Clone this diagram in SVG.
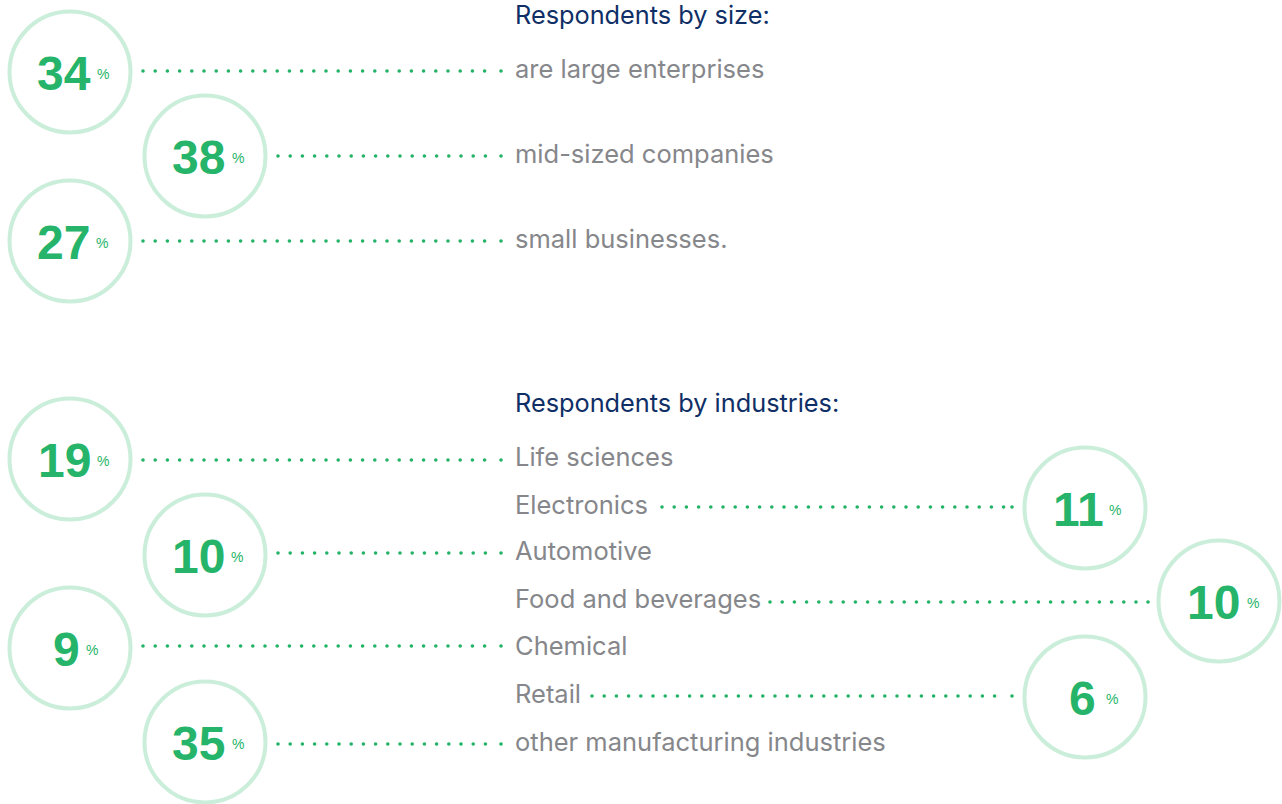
<svg xmlns="http://www.w3.org/2000/svg" width="1282" height="804" viewBox="0 0 1282 804">
<style>
.ring{fill:#fff;stroke:#cbeedb;stroke-width:4}
.num{font-family:"Liberation Sans",Arial,sans-serif;font-weight:700;font-size:48px;fill:#25b469}
.pct{font-family:"Liberation Sans",Arial,sans-serif;font-size:14px;fill:#25b469}
.lbl{font-family:Inter,"Liberation Sans",sans-serif;font-size:25.5px;fill:#86878b}
.hd{font-family:Inter,"Liberation Sans",sans-serif;font-size:25.3px;fill:#0f2f66}
.dots{stroke:#22b366;stroke-width:3.6;stroke-linecap:round;stroke-dasharray:0 12.2;fill:none}
.end{fill:#22b366}
</style>
<rect width="1282" height="804" fill="#fff"/>
<g id="connectors">
<line class="dots" x1="143" y1="71" x2="494" y2="71"/><circle class="end" cx="501" cy="71" r="1.8"/>
<line class="dots" x1="278" y1="156" x2="494" y2="156"/><circle class="end" cx="501" cy="156" r="1.8"/>
<line class="dots" x1="143" y1="241" x2="494" y2="241"/><circle class="end" cx="501" cy="241" r="1.8"/>
<line class="dots" x1="143" y1="460" x2="494" y2="460"/><circle class="end" cx="501" cy="460" r="1.8"/>
<line class="dots" x1="662" y1="507" x2="1005" y2="507"/><circle class="end" cx="1012" cy="507" r="1.8"/>
<line class="dots" x1="278" y1="553" x2="494" y2="553"/><circle class="end" cx="501" cy="553" r="1.8"/>
<line class="dots" x1="770" y1="602" x2="1141" y2="602"/><circle class="end" cx="1148" cy="602" r="1.8"/>
<line class="dots" x1="143" y1="646" x2="494" y2="646"/><circle class="end" cx="501" cy="646" r="1.8"/>
<line class="dots" x1="592" y1="696" x2="1005" y2="696"/><circle class="end" cx="1012" cy="696" r="1.8"/>
<line class="dots" x1="278" y1="744" x2="494" y2="744"/><circle class="end" cx="501" cy="744" r="1.8"/>
</g>
<g id="heading-size"><text class="hd" x="515" y="24">Respondents by size:</text></g>
<g id="n34"><circle class="ring" cx="70" cy="72" r="60.5"/><text class="num" x="37" y="90">34</text><text class="pct" x="97" y="79">%</text></g>
<g id="l34"><text class="lbl" x="515" y="78">are large enterprises</text></g>
<g id="n38"><circle class="ring" cx="205" cy="156" r="60.5"/><text class="num" x="172" y="174">38</text><text class="pct" x="232" y="163">%</text></g>
<g id="l38"><text class="lbl" x="515" y="163">mid-sized companies</text></g>
<g id="n27"><circle class="ring" cx="70" cy="241" r="60.5"/><text class="num" x="37" y="259">27</text><text class="pct" x="96" y="248">%</text></g>
<g id="l27"><text class="lbl" x="515" y="248">small businesses.</text></g>
<g id="heading-ind"><text class="hd" x="515" y="412">Respondents by industries:</text></g>
<g id="n19"><circle class="ring" cx="70" cy="459" r="60.5"/><text class="num" x="38" y="477">19</text><text class="pct" x="97" y="466">%</text></g>
<g id="l19"><text class="lbl" x="515" y="466">Life sciences</text></g>
<g id="l11"><text class="lbl" x="515" y="514">Electronics</text></g>
<g id="n11"><circle class="ring" cx="1085" cy="508" r="60.5"/><text class="num" x="1053" y="526">11</text><text class="pct" x="1109" y="515">%</text></g>
<g id="n10a"><circle class="ring" cx="205" cy="555" r="60.5"/><text class="num" x="172" y="573">10</text><text class="pct" x="231" y="562">%</text></g>
<g id="l10a"><text class="lbl" x="515" y="560">Automotive</text></g>
<g id="l10b"><text class="lbl" x="515" y="608">Food and beverages</text></g>
<g id="n10b"><circle class="ring" cx="1219" cy="601" r="60.5"/><text class="num" x="1187" y="619">10</text><text class="pct" x="1247" y="608">%</text></g>
<g id="n9"><circle class="ring" cx="70" cy="648" r="60.5"/><text class="num" x="53" y="666">9</text><text class="pct" x="86" y="655">%</text></g>
<g id="l9"><text class="lbl" x="515" y="655">Chemical</text></g>
<g id="l6"><text class="lbl" x="515" y="703">Retail</text></g>
<g id="n6"><circle class="ring" cx="1085" cy="697" r="60.5"/><text class="num" x="1069" y="715">6</text><text class="pct" x="1106" y="704">%</text></g>
<g id="n35"><circle class="ring" cx="205" cy="742" r="60.5"/><text class="num" x="172" y="760">35</text><text class="pct" x="232" y="749">%</text></g>
<g id="l35"><text class="lbl" x="515" y="751">other manufacturing industries</text></g>
</svg>
